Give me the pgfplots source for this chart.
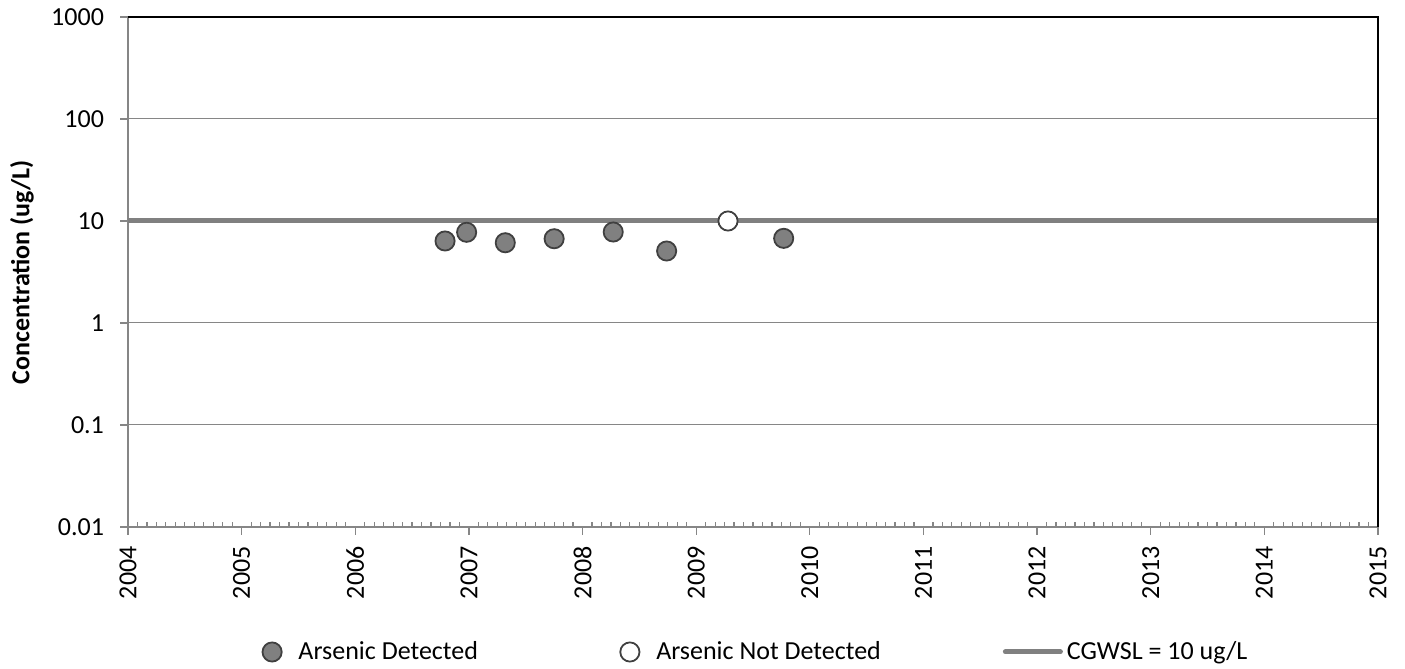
\documentclass[border=0pt]{standalone}
\usepackage{pgfplots}
\pgfplotsset{compat=1.18}
\usepackage{fontspec}
\setmainfont{Carlito}
\definecolor{mgray}{RGB}{128,128,128}
\definecolor{dgray}{RGB}{64,64,64}
\definecolor{agray}{RGB}{134,134,134}
\pgfplotsset{
  markleg/.style={legend image code/.code={\path (0pt,0pt) (21pt,0pt);
    \draw[mark repeat=2,mark phase=2,##1] plot coordinates {(0pt,0pt) (10pt,0pt) (20pt,0pt)};}},
  lineleg/.style={legend image code/.code={\draw[##1] (0pt,0pt) -- (27.5pt,0pt);}},
}
\begin{document}
\begin{tikzpicture}
\useasboundingbox (-64pt,-71pt) rectangle (638.5pt,263.5pt);
\begin{axis}[
  name=ax,
  at={(0,0)}, anchor=south west,
  scale only axis, width=625pt, height=255pt,
  font=\fontsize{13}{15.6}\selectfont,
  xmin=2004, xmax=2015,
  ymode=log, ymin=0.01, ymax=1000,
  xtick={2004,2005,2006,2007,2008,2009,2010,2011,2012,2013,2014,2015},
  xticklabels={2004,2005,2006,2007,2008,2009,2010,2011,2012,2013,2014,2015},
  minor x tick num=11,
  ytick={0.01,0.1,1,10,100,1000},
  yticklabels={0.01,0.1,1,10,100,1000},
  yminorticks=false,
  ymajorgrids, grid style={agray, line width=0.5pt},
  tick pos=left,
  tick align=outside, major tick length=4pt, minor tick length=-2.5pt,
  tick style={agray, line width=0.6pt},
  axis line style={agray, line width=0.75pt},
  xticklabel style={rotate=90, anchor=east, inner sep=5.5pt},
  yticklabel style={xshift=-4.5pt},
  every axis y label/.style={at={(axis description cs:-0.0848,0.5)}, rotate=90, anchor=center},
  ylabel={\bfseries Concentration (ug/L)},
  legend columns=3,
  legend cell align=left,
  legend style={draw=none, fill=none, inner sep=0pt, outer sep=0pt,
    at={(axis description cs:0,0)}, anchor=west, xshift=61.85pt, yshift=-62.5pt,
    /tikz/every even column/.append style={column sep=0pt}},
  markleg,
]
\addplot[mgray, line width=2.5pt, forget plot] coordinates {(2004,10) (2015,10)};
\addplot[only marks, mark=*, mark size=4.8pt, mark options={fill=mgray, draw=dgray, line width=0.9pt}]
  coordinates {(2006.79,6.37) (2006.98,7.75) (2007.32,6.12) (2007.75,6.7) (2008.27,7.8) (2008.74,5.08) (2009.77,6.76)};
\addlegendentry{\makebox[153.5pt][l]{Arsenic Detected}}
\addplot[only marks, mark=*, mark size=4.8pt, mark options={fill=white, draw=dgray, line width=0.9pt}]
  coordinates {(2009.28,10)};
\addlegendentry{\makebox[171.3pt][l]{Arsenic Not Detected}}
\addlegendimage{mgray, line width=2.5pt, line cap=round, lineleg}
\addlegendentry{CGWSL = 10 ug/L}
\end{axis}
\draw[black, line width=0.75pt] (ax.north west) -- (ax.north east) -- (ax.south east);
\end{tikzpicture}
\end{document}
